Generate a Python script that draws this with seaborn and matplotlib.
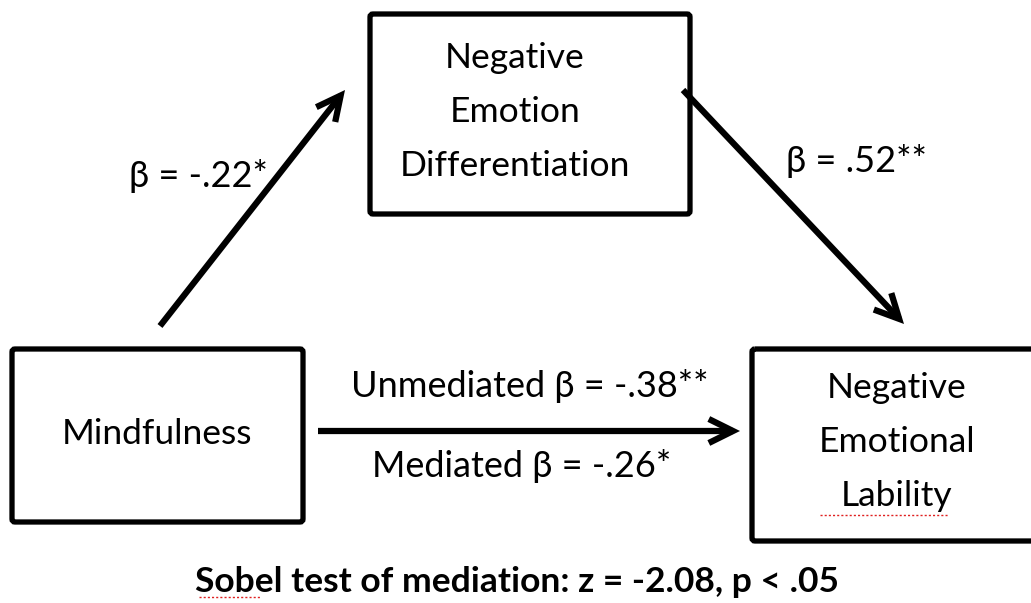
import matplotlib
matplotlib.use("Agg")
import matplotlib.pyplot as plt
import seaborn as sns
from matplotlib.patches import FancyBboxPatch

# ---- content ----
box_labels = ["Mindfulness", "Negative\nEmotion\nDifferentiation", "Negative\nEmotional\nLability"]
path_labels = ["β = -.22*", "β = .52**", "Unmediated β = -.38**", "Mediated β = -.26*"]
footer = "Sobel test of mediation: z = -2.08, p < .05"

sns.set_theme(style="white")
plt.rcParams['font.family'] = ['Lato', 'DejaVu Sans']

fig = plt.figure(figsize=(10.31, 6.03), dpi=100)
ax = fig.add_axes([0, 0, 1, 1])
ax.set_xlim(0, 1031)
ax.set_ylim(603, 0)
ax.axis("off")

# box geometry (x0, y0, x1, y1) and text centres in pixel coords
boxes = [(12, 349, 303, 522), (370, 14, 690, 214), (752, 349, 1040, 541)]
box_text_pos = [(157, 434), (515, 112), (897, 442)]
for (x0, y0, x1, y1), (tx, ty), lab in zip(boxes, box_text_pos, box_labels):
    ax.add_patch(FancyBboxPatch((x0, y0), x1 - x0, y1 - y0,
                                boxstyle="round,pad=0,rounding_size=3",
                                fill=False, ec="black", lw=3.8, clip_on=False))
    ax.text(tx, ty, lab, ha="center", va="center", fontsize=25.5,
            linespacing=1.86, color="black")

# arrows
arrows = [((160, 326), (345, 90)), ((683, 90), (904, 324)), ((318, 431), (740, 431))]
for (sx, sy), (ex, ey) in arrows:
    ax.annotate("", xy=(ex, ey), xytext=(sx, sy),
                arrowprops=dict(arrowstyle="->,head_length=1.45,head_width=0.72",
                                lw=4.5, color="black", shrinkA=0, shrinkB=0,
                                capstyle="butt", joinstyle="miter"))

# path labels
label_pos = [(198, 176), (856, 161), (530, 386), (522, 466)]
for (x, y), lab in zip(label_pos, path_labels):
    ax.text(x, y, lab, ha="center", va="center", fontsize=26, color="black")

# footer
ax.text(517, 582, footer, ha="center", va="center", fontsize=25.5,
        fontweight="bold", color="black")

# spell-check squiggles
ax.plot([820, 948], [515, 515], color="#e02020", lw=1.0, ls=(0, (1.5, 1.5)))
ax.plot([199, 260], [597, 597], color="#e02020", lw=1.0, ls=(0, (1.5, 1.5)))

fig.savefig("out.png", dpi=100)
